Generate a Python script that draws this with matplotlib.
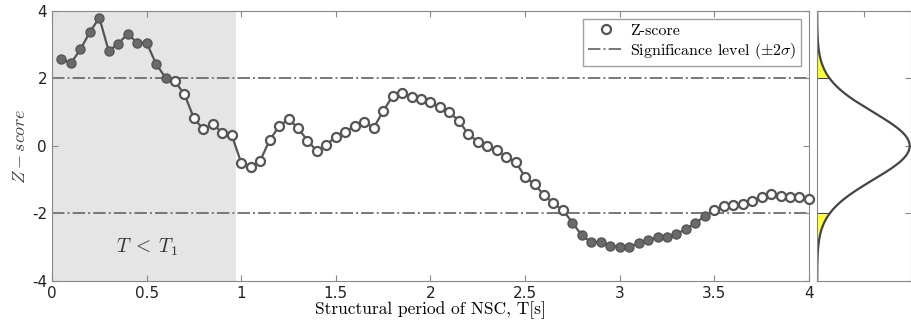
import numpy as np
import matplotlib.pyplot as plt

plt.rcParams['mathtext.fontset'] = 'cm'
plt.rcParams['font.family'] = 'DejaVu Sans'
plt.rcParams['axes.unicode_minus'] = False

# structural period (s) and z-score
period = [0.05, 0.10, 0.15, 0.20, 0.25, 0.30, 0.35, 0.40, 0.45, 0.50,
          0.55, 0.60, 0.65, 0.70, 0.75, 0.80, 0.85, 0.90, 0.95, 1.00,
          1.05, 1.10, 1.15, 1.20, 1.25, 1.30, 1.35, 1.40, 1.45, 1.50,
          1.55, 1.60, 1.65, 1.70, 1.75, 1.80, 1.85, 1.90, 1.95, 2.00,
          2.05, 2.10, 2.15, 2.20, 2.25, 2.30, 2.35, 2.40, 2.45, 2.50,
          2.55, 2.60, 2.65, 2.70, 2.75, 2.80, 2.85, 2.90, 2.95, 3.00,
          3.05, 3.10, 3.15, 3.20, 3.25, 3.30, 3.35, 3.40, 3.45, 3.50,
          3.55, 3.60, 3.65, 3.70, 3.75, 3.80, 3.85, 3.90, 3.95, 4.00]
zscore = [2.58, 2.45, 2.86, 3.37, 3.80, 2.81, 3.03, 3.32, 3.06, 3.06,
          2.43, 2.02, 1.91, 1.53, 0.82, 0.49, 0.66, 0.39, 0.32, -0.50,
          -0.61, -0.44, 0.17, 0.58, 0.80, 0.53, 0.16, -0.15, 0.03, 0.28,
          0.42, 0.60, 0.70, 0.54, 1.03, 1.48, 1.58, 1.46, 1.38, 1.29,
          1.15, 1.00, 0.74, 0.35, 0.13, 0.00, -0.12, -0.32, -0.48, -0.91,
          -1.14, -1.45, -1.70, -1.90, -2.27, -2.65, -2.85, -2.84, -2.97, -2.98,
          -2.98, -2.88, -2.78, -2.71, -2.70, -2.62, -2.45, -2.29, -2.07, -1.89,
          -1.78, -1.75, -1.71, -1.62, -1.50, -1.42, -1.48, -1.51, -1.52, -1.56]
sig_level = 2.0
t1 = 0.97

period = np.array(period)
zscore = np.array(zscore)
signif = np.abs(zscore) >= sig_level

line_c = '#555555'
spine_c = '#888888'

fig = plt.figure(figsize=(9.12, 3.31), dpi=100)
ax = fig.add_axes([0.057, 0.151, 0.830, 0.816])
ax2 = fig.add_axes([0.896, 0.151, 0.103, 0.816])

ax.axvspan(0, t1, color='#e5e5e5', lw=0, zorder=0)
ax.plot(period, zscore, '-', color=line_c, lw=1.6, zorder=2)
ax.plot(period[~signif], zscore[~signif], 'o', ms=6.5, mfc='white', mec=line_c, mew=1.6,
        ls='none', zorder=3, label='Z-score', clip_on=False)
ax.plot(period[signif], zscore[signif], 'o', ms=6.5, mfc='#6a6a6a', mec='#555555', mew=1.0,
        ls='none', zorder=3, clip_on=False)
ax.axhline(sig_level, color='#777777', lw=1.4, ls='-.', zorder=1,
           label=r'Significance level ($\pm2\sigma$)')
ax.axhline(-sig_level, color='#777777', lw=1.4, ls='-.', zorder=1)

ax.text(0.5, -3.0, r'$T\; <\; T_1$', fontsize=14, ha='center', va='center', color='#333333')

ax.set_xlim(0, 4)
ax.set_ylim(-4, 4)
ax.set_xticks([0, 0.5, 1, 1.5, 2, 2.5, 3, 3.5, 4])
ax.set_xticklabels(['0', '0.5', '1', '1.5', '2', '2.5', '3', '3.5', '4'])
ax.set_yticks([-4, -2, 0, 2, 4])
ax.set_yticklabels(['-4', '-2', '0', '2', '4'])
ax.set_xlabel('Structural period of NSC, T[s]', fontsize=12.5, family='cmr10', labelpad=0)
ax.set_ylabel(r'$Z-score$', fontsize=13, color='#444444', labelpad=2)
ax.tick_params(direction='in', top=True, right=True, labelsize=11, length=4,
               color=spine_c, labelcolor='#222222')
for s in ax.spines.values():
    s.set_color(spine_c)

ax.legend(loc='upper right', frameon=True, fancybox=False, edgecolor='#888888',
          borderpad=0.3, handlelength=2.2, handletextpad=0.4, labelspacing=0.2,
          prop={'family': 'cmr10', 'size': 11.5})

# normal distribution on the side
zz = np.linspace(-4, 4, 400)
pdf = np.exp(-zz ** 2 / 2) / np.sqrt(2 * np.pi)
ax2.plot(pdf, zz, color='#444444', lw=1.6)
ax2.fill_betweenx(zz, 0, pdf, where=zz >= sig_level, color='#ffff33', lw=0)
ax2.fill_betweenx(zz, 0, pdf, where=zz <= -sig_level, color='#ffff33', lw=0)
ax2.plot([0, np.exp(-2) / np.sqrt(2 * np.pi)], [sig_level, sig_level], color='#444444', lw=0.8)
ax2.plot([0, np.exp(-2) / np.sqrt(2 * np.pi)], [-sig_level, -sig_level], color='#444444', lw=0.8)
ax2.set_xlim(0, 0.405)
ax2.set_ylim(-4, 4)
ax2.set_xticks([0.2])
ax2.set_yticks([-4, -2, 0, 2, 4])
ax2.tick_params(direction='in', top=True, right=True, left=False, bottom=False,
                labelleft=False, labelbottom=False, length=4, color=spine_c)
for s in ax2.spines.values():
    s.set_color(spine_c)

fig.savefig('out.png', dpi=100)
